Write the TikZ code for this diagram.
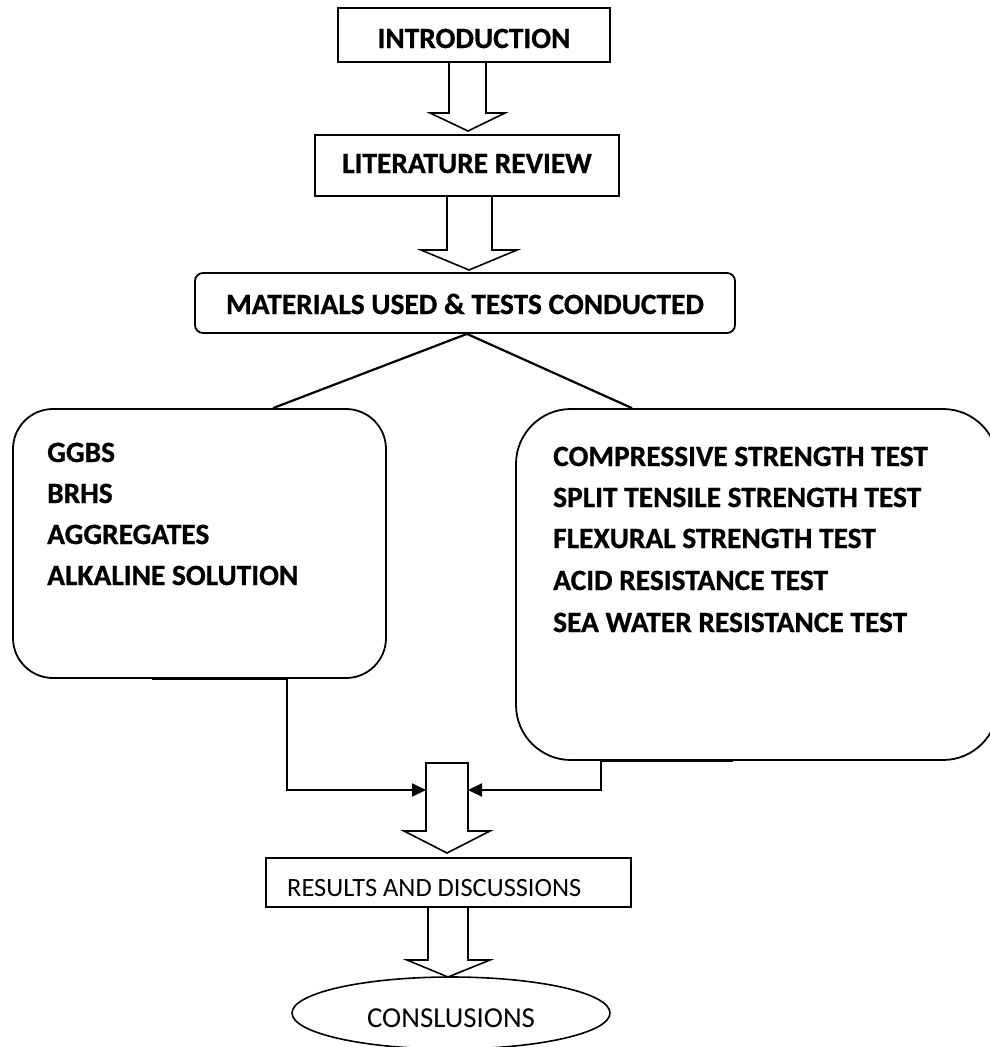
\documentclass[tikz,border=0pt]{standalone}
\usepackage{fontspec}
\setmainfont{Carlito}[BoldFeatures={FakeBold=0.8}]
\usetikzlibrary{arrows.meta,shapes.geometric}
\begin{document}
\begin{tikzpicture}[x=1pt,y=-1pt,
  box/.style={draw,line width=1.8pt,inner sep=0pt,font=\fontsize{29.4}{34}\selectfont\bfseries,text depth=0pt},
  plainbox/.style={draw,line width=1.8pt,inner sep=0pt},
  item/.style={anchor=base west,inner sep=0pt,font=\fontsize{29.4}{34}\selectfont\bfseries},
  barrow/.style={draw,line width=1.6pt,line join=miter},
  conn/.style={draw,line width=2.2pt,-{Triangle[length=14pt,width=13pt]}},
  thickseg/.style={line width=3pt},
  branch/.style={line width=2.2pt}]
\useasboundingbox (0,0) rectangle (990,1047);

% boxes
\node[box,minimum width=272pt,minimum height=54pt,text height=26pt] (intro) at (474,35) {INTRODUCTION};
\node[box,minimum width=304pt,minimum height=61pt,text height=15pt] (lit) at (467,165.5) {LITERATURE REVIEW};
\node[box,rounded corners=8pt,minimum width=540pt,minimum height=60pt,text height=22pt] (mat) at (465,303) {MATERIALS USED \& TESTS CONDUCTED};
\node[plainbox,rounded corners=40pt,minimum width=373pt,minimum height=269pt] (lb) at (199.5,543.5) {};
\node[plainbox,rounded corners=55pt,minimum width=482pt,minimum height=351pt] (rb) at (757,584.5) {};
\node[plainbox,minimum width=365pt,minimum height=49pt] (res) at (448.5,882.5) {};
\node[anchor=base west,inner sep=0pt,font=\fontsize{26.4}{32}\selectfont] (restext) at (287,896) {RESULTS AND DISCUSSIONS};
\node[draw,ellipse,line width=1.6pt,inner sep=0pt,minimum width=318pt,minimum height=72pt,font=\fontsize{28.9}{34}\selectfont,text height=28pt,text depth=0pt] (conc) at (451,1013) {CONSLUSIONS};

% left box items
\node[item] (l1) at (47,462) {GGBS};
\node[item] (l2) at (47,503) {BRHS};
\node[item] (l3) at (47,544) {AGGREGATES};
\node[item] (l4) at (47,585) {ALKALINE SOLUTION};

% right box items
\node[item] (r1) at (553,466) {COMPRESSIVE STRENGTH TEST};
\node[item] (r2) at (553,507) {SPLIT TENSILE STRENGTH TEST};
\node[item] (r3) at (553,548) {FLEXURAL STRENGTH TEST};
\node[item] (r4) at (553,590) {ACID RESISTANCE TEST};
\node[item] (r5) at (553,632) {SEA WATER RESISTANCE TEST};

% block arrows
\draw[barrow] (449,62) -- (449,113) -- (430,113) -- (468,131) -- (505,113) -- (486,113) -- (486,62);
\draw[barrow] (447,196) -- (447,250) -- (421,250) -- (469,270) -- (517,250) -- (492,250) -- (492,196);
\draw[barrow] (426,763) -- (426,831) -- (404,831) -- (447,853) -- (490,831) -- (468,831) -- (468,763) -- cycle;
\draw[barrow] (428,907) -- (428,960) -- (407,960) -- (448,977) -- (490,960) -- (468,960) -- (468,907);

% branch lines
\coordinate (mjoin) at ([xshift=2pt]mat.south);
\draw[branch] (mjoin) -- ([xshift=73.5pt]lb.north);
\draw[branch] (mjoin) -- ([xshift=-125pt]rb.north);

% elbow connectors
\coordinate (lbot) at ([xshift=87.5pt]lb.south);
\coordinate (rbot) at ([xshift=-156pt]rb.south);
\coordinate (mL) at (426,790);
\coordinate (mR) at (468,790);
\draw[thickseg] ([xshift=-47.5pt]lb.south) -- (lbot);
\draw[thickseg] (rbot) -- ([xshift=-24pt]rb.south);
\draw[conn] (lbot) |- (mL);
\draw[conn] (rbot) |- (mR);
\end{tikzpicture}
\end{document}
